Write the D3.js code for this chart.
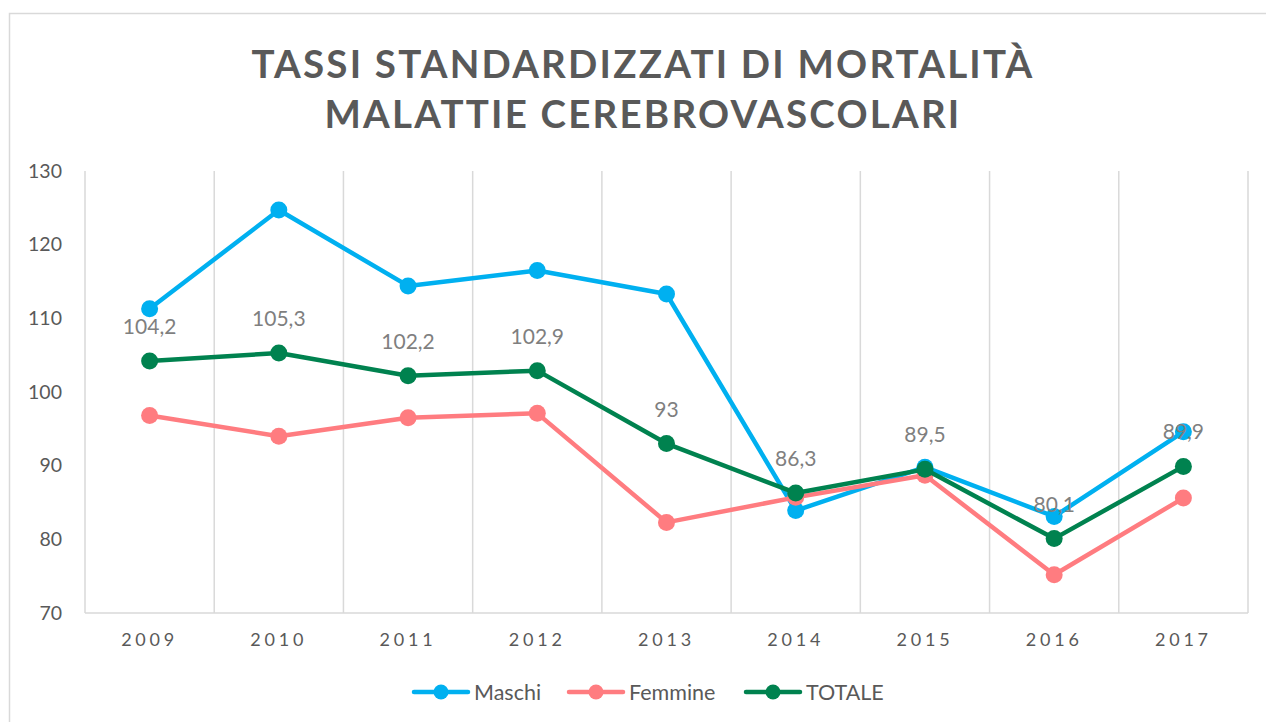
<!DOCTYPE html>
<html><head><meta charset="utf-8">
<script src="https://cdn.jsdelivr.net/npm/d3@7"></script>
<style>body{margin:0;background:#fff;} svg{display:block;font-family:Lato,"Open Sans",sans-serif;}</style>
</head><body>
<svg id="c" width="1266" height="722"></svg>
<script>
const years = ["2009","2010","2011","2012","2013","2014","2015","2016","2017"];
const maschi = [111.3,124.7,114.4,116.5,113.3,83.9,89.8,83.1,94.6];
const femmine = [96.8,94.0,96.5,97.1,82.3,85.7,88.7,75.2,85.6];
const totale = [104.2,105.3,102.2,102.9,93,86.3,89.5,80.1,89.9];
const yTicks = [70,80,90,100,110,120,130];
const titleLines = ["TASSI STANDARDIZZATI DI MORTALITÀ","MALATTIE CEREBROVASCOLARI"];
const series = [
  {name:"Maschi", values:maschi, color:"#00b0f0"},
  {name:"Femmine", values:femmine, color:"#ff7c80"},
  {name:"TOTALE", values:totale, color:"#00824f"}
];

const svg = d3.select("#c");
svg.append("rect").attr("x",9.5).attr("y",13.5).attr("width",1300).attr("height",800)
  .attr("fill","none").attr("stroke","#d9d9d9").attr("stroke-width",1.5);

svg.selectAll("text.title").data(titleLines).enter().append("text")
  .attr("x",643).attr("y",(d,i)=>78+i*50).attr("text-anchor","middle")
  .attr("font-size",38.5).attr("font-weight","bold").attr("fill","#595959")
  .attr("letter-spacing",2.2).text(d=>d);

const x = d3.scaleBand().domain(years).range([85,1248]);
const y = d3.scaleLinear().domain([70,130]).range([613,171]);

const bounds = years.map(d=>x(d)).concat([x.range()[1]]);
svg.selectAll("line.g").data(bounds).enter().append("line")
  .attr("x1",d=>d).attr("x2",d=>d).attr("y1",y(130)).attr("y2",y(70))
  .attr("stroke","#d9d9d9").attr("stroke-width",1.5);
svg.append("line").attr("x1",85).attr("x2",1248).attr("y1",y(70)).attr("y2",y(70))
  .attr("stroke","#d9d9d9").attr("stroke-width",1.5);

const ya = svg.append("g").attr("transform","translate(62,0)")
  .call(d3.axisLeft(y).tickValues(yTicks).tickSize(0).tickPadding(0));
ya.select(".domain").remove();
ya.selectAll("text").attr("font-size",19.5).attr("fill","#595959").attr("font-family","Lato,'Open Sans',sans-serif");

const xa = svg.append("g").attr("transform",`translate(0,${y(70)})`)
  .call(d3.axisBottom(x).tickSize(0).tickPadding(20));
xa.select(".domain").remove();
xa.selectAll("text").attr("font-size",18).attr("fill","#595959").attr("letter-spacing",3.8)
  .attr("font-family","Lato,'Open Sans',sans-serif");

const cx = d => x(d)+x.bandwidth()/2;
const line = d3.line().x((d,i)=>cx(years[i])).y(d=>y(d));

series.forEach(s=>{
  svg.append("path").attr("d",line(s.values)).attr("fill","none")
    .attr("stroke",s.color).attr("stroke-width",4.5).attr("stroke-linejoin","round");
  svg.selectAll(null).data(s.values).enter().append("circle")
    .attr("cx",(d,i)=>cx(years[i])).attr("cy",d=>y(d)).attr("r",8.5).attr("fill",s.color);
});

svg.selectAll("text.lbl").data(totale).enter().append("text")
  .attr("x",(d,i)=>cx(years[i])).attr("y",d=>y(d)-27).attr("text-anchor","middle")
  .attr("font-size",21).attr("fill","#7f7f7f")
  .text(d=>String(d).replace(".",","));

const lx = [414,569,746];
series.forEach((s,i)=>{
  const g = svg.append("g").attr("transform",`translate(${lx[i]},692)`);
  g.append("line").attr("x1",0).attr("x2",54).attr("stroke",s.color).attr("stroke-width",4.5).attr("stroke-linecap","round");
  g.append("circle").attr("cx",27).attr("r",7.5).attr("fill",s.color);
  g.append("text").attr("x",60).attr("y",7.5).attr("font-size",21.5).attr("fill","#595959").text(s.name);
});
</script>
</body></html>
